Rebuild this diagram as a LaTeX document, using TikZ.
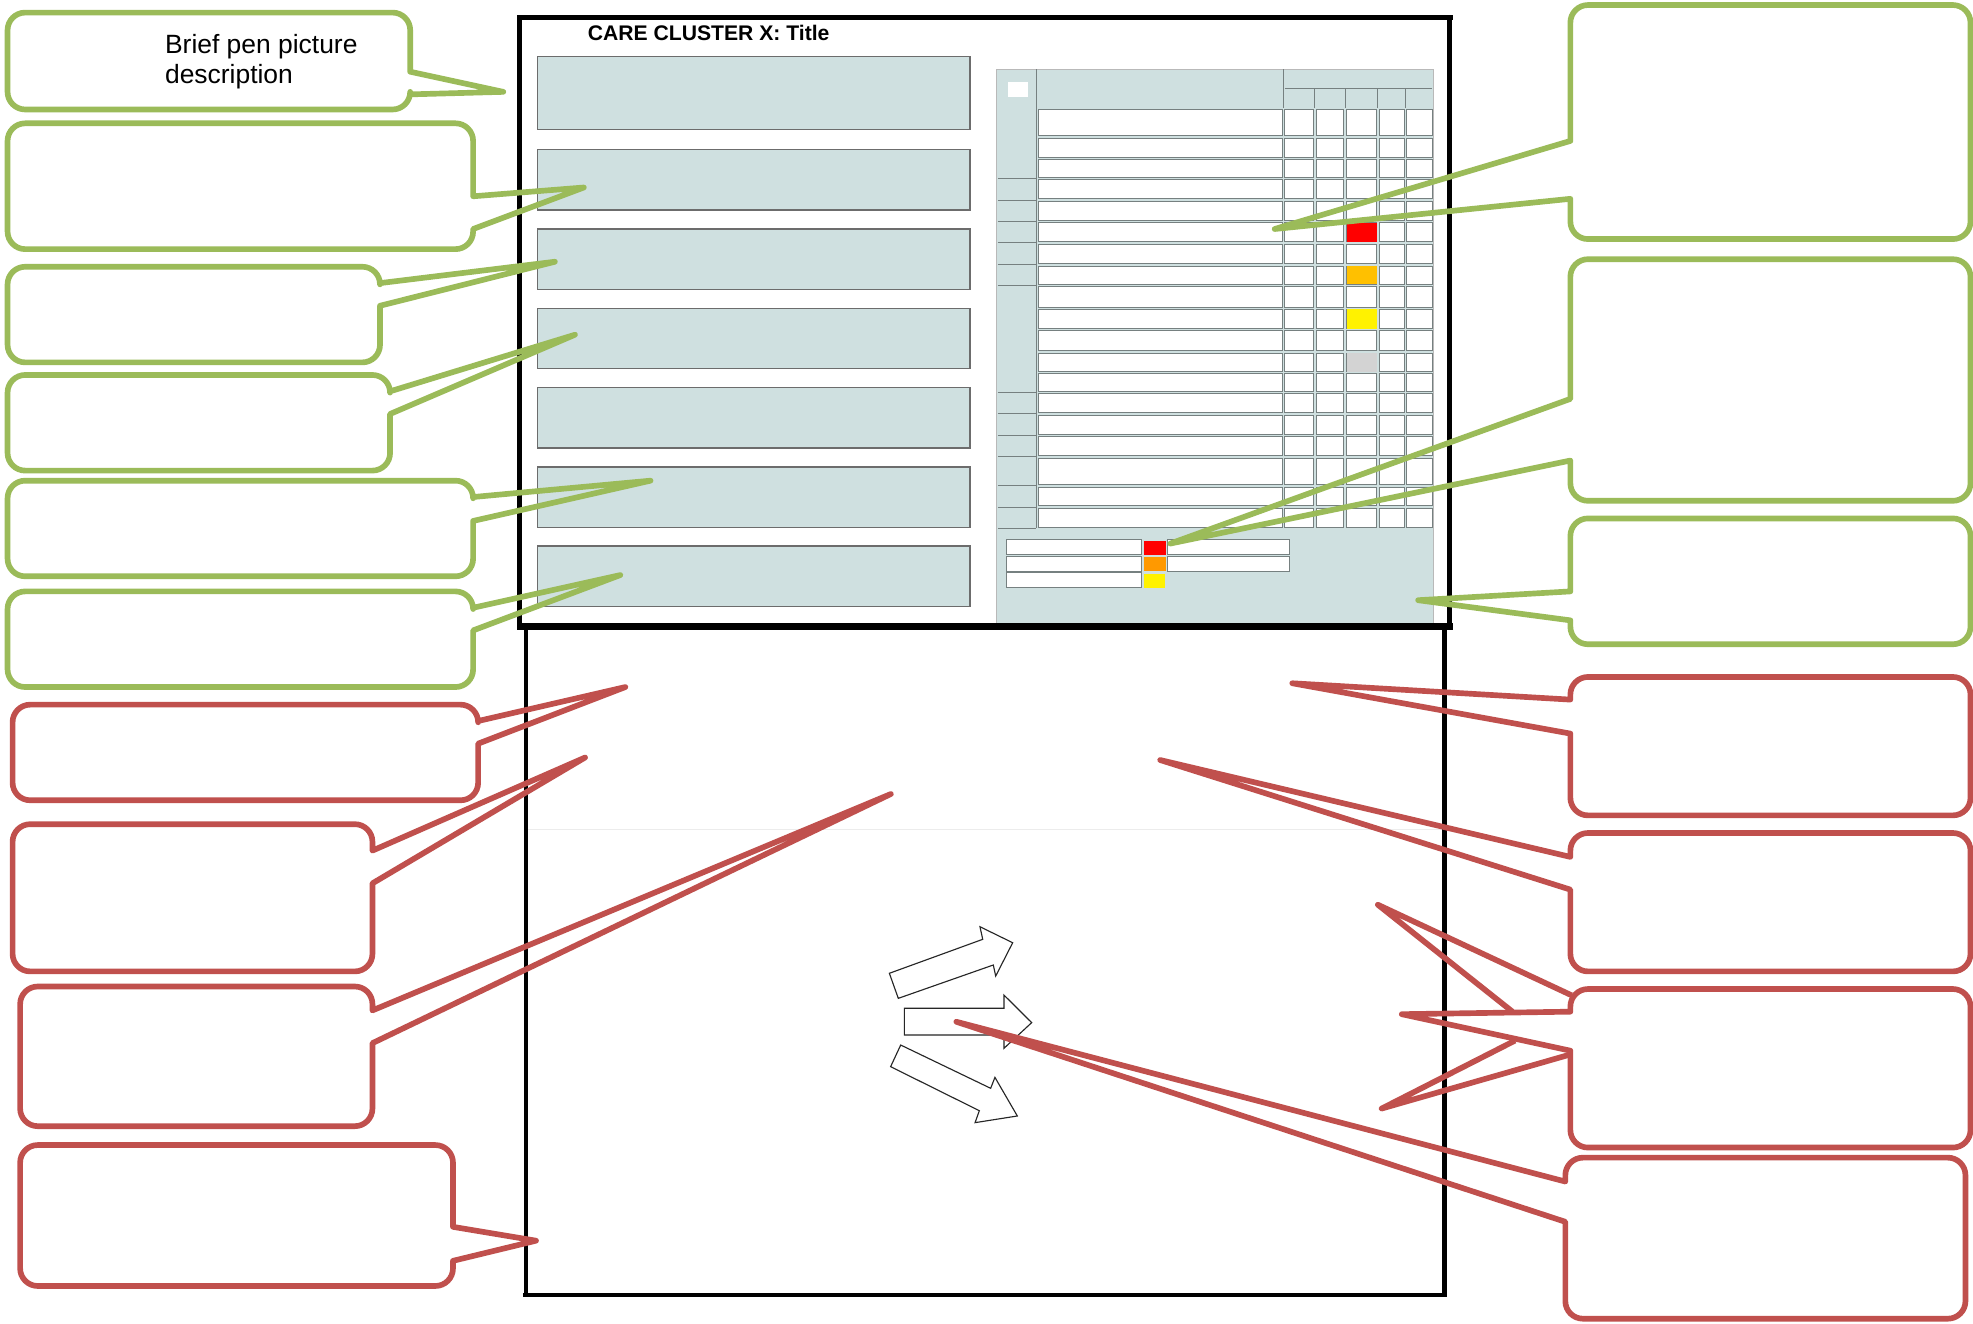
\documentclass[tikz,border=0pt]{standalone}
\usepackage{fontspec}
\setmainfont{Liberation Sans}
\definecolor{cgreen}{RGB}{155,187,89}
\definecolor{cred}{RGB}{192,80,77}
\definecolor{panelc}{RGB}{207,224,224}
\definecolor{cellline}{RGB}{118,128,128}
\definecolor{amberc}{RGB}{255,192,0}
\definecolor{lorange}{RGB}{255,153,0}
\definecolor{lgreyc}{RGB}{211,211,211}
\tikzset{
  greencall/.style={draw=cgreen, line width=4.5pt, line join=round},
  redcall/.style={draw=cred, line width=4.5pt, line join=round},
  frameline/.style={draw=black, line width=3.5pt},
  bluebox/.style={fill=panelc, draw=gray!85!black, line width=1.1pt},
  tcell/.style={fill=white, draw=cellline, line width=0.7pt},
  gridline/.style={draw=cellline, line width=0.8pt},
  blockarrow/.style={fill=white, draw=gray!30!black, line width=0.9pt, line join=miter},
}
% callout with pointer on the right edge: style, x1, y1, x2, y2, base1, base2, tipx, tipy (y downward)
\newcommand\calR[9]{%
  \draw[#1] ({#2+14},-#3) -- ({#4-14},-#3) arc[start angle=90,end angle=0,radius=14pt]
    -- (#4,-#6) -- (#8,-#9) -- (#4,-#7) -- (#4,{-#5+14})
    arc[start angle=0,end angle=-90,radius=14pt] -- ({#2+14},-#5)
    arc[start angle=270,end angle=180,radius=14pt] -- (#2,{-#3-14})
    arc[start angle=180,end angle=90,radius=14pt] -- cycle;}
% callout with pointer on the left edge
\newcommand\calL[9]{%
  \draw[#1] ({#2+14},-#3) -- ({#4-14},-#3) arc[start angle=90,end angle=0,radius=14pt]
    -- (#4,{-#5+14}) arc[start angle=0,end angle=-90,radius=14pt] -- ({#2+14},-#5)
    arc[start angle=270,end angle=180,radius=14pt] -- (#2,-#7) -- (#8,-#9) -- (#2,-#6)
    -- (#2,{-#3-14}) arc[start angle=180,end angle=90,radius=14pt] -- cycle;}
\begin{document}
\begin{tikzpicture}[x=1pt,y=1pt]
\useasboundingbox[fill=white] (0,0) rectangle (1568,-1052);

% ---------- left blue boxes ----------
\foreach \t/\b in {45/103,119/167,182/230,245/293,308/356,371/419,434/482}
  \draw[bluebox] (427,-\t) rectangle (771,-\b);

% ---------- right panel / table ----------
\fill[panelc] (792,-55) rectangle (1139,-497);
\draw[draw=gray!55, line width=0.7pt] (792,-497) -- (792,-55) -- (1139,-55) -- (1139,-497);
\foreach \a/\b in {86/109,109/126,126/142,142/159,159/176,176/193,193/210.5,210.5/227,227/245,245/262,262/279.5,279.5/296,296/312,312/329,329/346,346/363,363/386,386/403,403/420}
  \foreach \l/\r in {824/1020,1020/1045,1045/1069,1069/1095,1095/1117,1117/1139}
    \draw[tcell] ({\l+1},{-\a-1}) rectangle ({\r-1},{-\b+1});
% left column separators
\draw[gridline] (823.5,-55) -- (823.5,-420);
\foreach \y in {142,159,176,193,210.5,227,312,329,346,363,386,403,420}
  \draw[gridline] (793,-\y) -- (823,-\y);
% header lines
\draw[gridline] (1020,-55) -- (1020,-86);
\draw[gridline] (1021,-70) -- (1138,-70);
\foreach \x in {1045,1069,1095,1117} \draw[gridline] (\x,-70) -- (\x,-86);
\fill[white] (801,-65) rectangle (817,-77);
% coloured cells
\fill[red] (1070.5,-177) rectangle (1094,-192.5);
\fill[amberc] (1070.5,-211.5) rectangle (1094,-226);
\fill[yellow] (1070.5,-245.8) rectangle (1094,-261.3);
\fill[lgreyc] (1070.5,-280.3) rectangle (1094,-295.3);
% legend
\foreach \t/\b in {429/441,442/454,455/467} \draw[tcell] (800,-\t) rectangle (907,-\b);
\foreach \t/\b in {429/441,442/454} \draw[tcell] (928,-\t) rectangle (1025,-\b);
\fill[red] (909,-430) rectangle (927,-441);
\fill[lorange] (909,-443) rectangle (927,-454);
\fill[yellow] (909,-456) rectangle (926,-467);

% ---------- frames ----------
\draw[frameline] (411,-14) -- (1155,-14);
\draw[frameline] (413,-14) -- (413,-498);
\draw[frameline] (1152,-14) -- (1152,-498);
\draw[frameline, line width=5pt] (411,-498) -- (1155,-498);
\draw[frameline] (418,-500) -- (418,-1029);
\draw[frameline] (1148,-500) -- (1148,-1029);
\draw[frameline] (416,-1029) -- (1150,-1029);
\draw[draw=gray!15, line width=0.6pt] (420,-659) -- (1146,-659);

% ---------- title ----------
\node[anchor=base west, inner sep=0, font=\bfseries\fontsize{16.8}{20}\selectfont] (title) at (467,-32.5) {CARE CLUSTER X: Title};

% ---------- block arrows ----------
\draw[blockarrow] (706.8,-773.5) -- (781,-746.5) -- (778.8,-736.5) -- (804.8,-749.2) -- (791.3,-775.7) -- (789.4,-766.9) -- (713.9,-793.4) -- cycle;
\draw[blockarrow] (718.7,-801.3) -- (797.9,-801.3) -- (797.9,-790.8) -- (819.9,-812.7) -- (797.9,-833.1) -- (797.9,-822.5) -- (718.7,-822.5) -- cycle;
\draw[blockarrow] (715.8,-830.5) -- (787.3,-864.9) -- (790.7,-856.2) -- (808.5,-886.9) -- (774.9,-892.2) -- (778.3,-882.7) -- (707.8,-847.7) -- cycle;

% ---------- callouts, left ----------
\calR{greencall}{6}{10}{326}{87}{57}{75}{400}{73}
\node[anchor=base west, inner sep=0, font=\fontsize{21}{24}\selectfont] (pen1) at (131,-42.6) {Brief pen picture};
\node[anchor=base west, inner sep=0, font=\fontsize{21}{24}\selectfont] (pen2) at (131,-66) {description};
\calR{greencall}{6}{98}{376}{198}{156}{182}{464}{149}
\calR{greencall}{6}{212}{302}{288}{225}{243}{441}{208}
\calR{greencall}{6}{298}{310}{374}{311}{329}{457}{266}
\calR{greencall}{6}{382}{376}{458}{395}{414}{517}{382}
\calR{greencall}{6}{470}{376}{546}{483}{501}{493}{457}
\calR{redcall}{10}{560}{380}{636}{573}{591}{497}{546}
\calR{redcall}{10}{655}{296}{772}{676}{702}{465}{602}
\calR{redcall}{16}{784}{296}{895}{803}{829}{708}{631}
\calR{redcall}{16}{910}{360}{1022}{975}{1002}{426}{986}

% ---------- callouts, right ----------
\calL{greencall}{1248}{4}{1566}{190}{112}{158}{1013}{182}
\calL{greencall}{1248}{206}{1566}{398}{317}{366}{930}{432}
\calL{greencall}{1248}{412}{1566}{512}{470}{493}{1127}{477}
\calL{redcall}{1248}{538}{1566}{648}{556}{583}{1027}{543}
\calL{redcall}{1248}{662}{1566}{772}{681}{707}{922}{604}
\calL{redcall}{1248}{786}{1566}{912}{804}{835}{1114}{806}
\draw[redcall] (1249,-791) -- (1095,-719) -- (1202,-804);
\draw[redcall] (1204,-827) -- (1098,-881) -- (1248,-838);
\calL{redcall}{1244}{920}{1562}{1048}{939}{971}{760}{812}
\end{tikzpicture}
\end{document}
